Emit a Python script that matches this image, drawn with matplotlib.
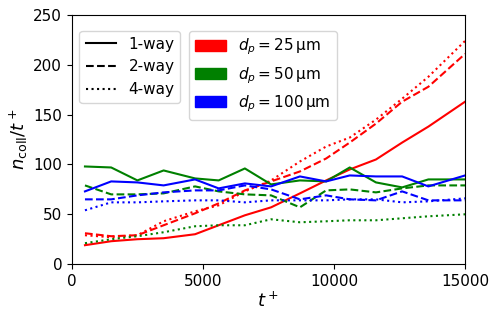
import matplotlib.pyplot as plt
from matplotlib.lines import Line2D
from matplotlib.patches import Patch

t_plus = [500, 1500, 2500, 3500, 4700, 5600, 6600, 7600, 8700, 9700, 10600, 11600, 12600, 13600, 15000]

# d_p = 25 um
red_1way = [19, 23, 25, 26, 30, 39, 49, 57, 71, 84, 95, 105, 122, 138, 163]
red_2way = [31, 28, 29, 39, 51, 61, 74, 83, 93, 106, 122, 141, 163, 178, 211]
red_4way = [29, 27, 29, 43, 53, 59, 73, 84, 103, 118, 127, 145, 166, 188, 224]
# d_p = 50 um
green_1way = [98, 97, 84, 94, 86, 84, 96, 80, 84, 83, 97, 82, 77, 85, 85]
green_2way = [79, 70, 70, 71, 78, 73, 70, 69, 57, 74, 75, 72, 76, 79, 79]
green_4way = [21, 25, 28, 32, 38, 39, 39, 45, 42, 43, 44, 44, 46, 48, 50]
# d_p = 100 um
blue_1way = [73, 83, 82, 79, 85, 76, 81, 78, 88, 83, 89, 88, 88, 78, 89]
blue_2way = [65, 65, 69, 72, 74, 74, 79, 75, 65, 69, 65, 64, 73, 64, 64]
blue_4way = [54, 62, 62, 63, 64, 64, 62, 64, 64, 64, 65, 65, 62, 63, 66]

fig = plt.figure(figsize=(4.99, 3.19), dpi=100)
ax = fig.add_axes([0.144, 0.172, 0.788, 0.781])

for col, series in [('red', [red_1way, red_2way, red_4way]),
                    ('green', [green_1way, green_2way, green_4way]),
                    ('blue', [blue_1way, blue_2way, blue_4way])]:
    for ls, y in zip(['-', '--', ':'], series):
        ax.plot(t_plus, y, color=col, ls=ls, lw=1.5)

ax.set_xlim(0, 15000)
ax.set_ylim(0, 250)
ax.set_xticks([0, 5000, 10000, 15000])
ax.tick_params(labelsize=11)
ax.set_xlabel(r'$t^+$', fontsize=13, labelpad=2)
ax.set_ylabel(r'$n_{\mathrm{coll}}/t^+$', fontsize=13, labelpad=2)

style_handles = [Line2D([], [], color='k', ls='-'),
                 Line2D([], [], color='k', ls='--'),
                 Line2D([], [], color='k', ls=':')]
leg1 = ax.legend(style_handles, ['1-way', '2-way', '4-way'], loc='upper left',
                 bbox_to_anchor=(0, 0.968), fontsize=11)
ax.add_artist(leg1)

size_handles = [Patch(color='red'), Patch(color='green'), Patch(color='blue')]
ax.legend(size_handles,
          [r'$d_p = 25\,\mathrm{µm}$', r'$d_p = 50\,\mathrm{µm}$', r'$d_p = 100\,\mathrm{µm}$'],
          loc='upper left', bbox_to_anchor=(0.279, 0.968), fontsize=11)

fig.savefig('out.png', dpi=100)
